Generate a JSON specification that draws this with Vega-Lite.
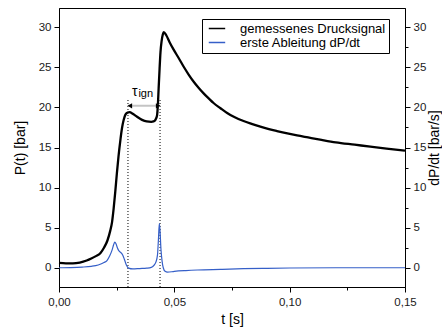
{
  "$schema": "https://vega.github.io/schema/vega-lite/v6.json",
  "width": 346,
  "height": 279,
  "autosize": "none",
  "padding": {"left": 59, "top": 8, "right": 37, "bottom": 45},
  "background": "white",
  "config": {
    "font": "Liberation Sans",
    "view": {"stroke": "black", "strokeWidth": 1},
    "axis": {
      "domainColor": "black",
      "tickColor": "black",
      "labelColor": "#1a1a1a",
      "labelFont": "Liberation Sans",
      "labelFontSize": 11.5,
      "titleFont": "Liberation Sans",
      "titleFontSize": 14,
      "titleFontWeight": "normal",
      "titleColor": "black",
      "grid": false,
      "labelFlush": false,
      "labelOverlap": false
    }
  },
  "datasets": {
    "P": [
      {"t": 0.0, "v": 0.6}, {"t": 0.003, "v": 0.55}, {"t": 0.006, "v": 0.55}, {"t": 0.009, "v": 0.65},
      {"t": 0.012, "v": 0.9}, {"t": 0.014, "v": 1.15}, {"t": 0.016, "v": 1.45}, {"t": 0.018, "v": 1.85},
      {"t": 0.0195, "v": 2.5}, {"t": 0.021, "v": 3.4}, {"t": 0.0222, "v": 4.6}, {"t": 0.023, "v": 5.7},
      {"t": 0.0237, "v": 7.4}, {"t": 0.0244, "v": 9.5}, {"t": 0.0251, "v": 11.8}, {"t": 0.0258, "v": 13.9},
      {"t": 0.0266, "v": 15.9}, {"t": 0.0273, "v": 17.4}, {"t": 0.028, "v": 18.4}, {"t": 0.0288, "v": 19.1},
      {"t": 0.0297, "v": 19.35}, {"t": 0.0306, "v": 19.4}, {"t": 0.0318, "v": 19.25}, {"t": 0.033, "v": 19.0},
      {"t": 0.0345, "v": 18.7}, {"t": 0.036, "v": 18.45}, {"t": 0.038, "v": 18.25}, {"t": 0.04, "v": 18.2},
      {"t": 0.041, "v": 18.25}, {"t": 0.0418, "v": 18.45}, {"t": 0.0425, "v": 19.0}, {"t": 0.0429, "v": 20.5},
      {"t": 0.0432, "v": 22.4}, {"t": 0.0436, "v": 24.8}, {"t": 0.044, "v": 26.9}, {"t": 0.0445, "v": 28.3},
      {"t": 0.045, "v": 29.1}, {"t": 0.0454, "v": 29.4}, {"t": 0.0465, "v": 29.0}, {"t": 0.048, "v": 28.1},
      {"t": 0.0497, "v": 27.2}, {"t": 0.052, "v": 26.1}, {"t": 0.054, "v": 25.1}, {"t": 0.0562, "v": 24.1},
      {"t": 0.0584, "v": 23.2}, {"t": 0.0605, "v": 22.45}, {"t": 0.0627, "v": 21.75}, {"t": 0.065, "v": 21.1},
      {"t": 0.067, "v": 20.55}, {"t": 0.07, "v": 19.9}, {"t": 0.0729, "v": 19.3}, {"t": 0.076, "v": 18.8},
      {"t": 0.08, "v": 18.3}, {"t": 0.0835, "v": 17.95}, {"t": 0.0873, "v": 17.6}, {"t": 0.091, "v": 17.3},
      {"t": 0.0945, "v": 17.05}, {"t": 0.099, "v": 16.75}, {"t": 0.1032, "v": 16.5}, {"t": 0.108, "v": 16.25},
      {"t": 0.1138, "v": 15.95}, {"t": 0.12, "v": 15.65}, {"t": 0.1282, "v": 15.35}, {"t": 0.135, "v": 15.1},
      {"t": 0.142, "v": 14.85}, {"t": 0.15, "v": 14.6}
    ],
    "D": [
      {"t": 0.0, "v": 0.0}, {"t": 0.005, "v": 0.02}, {"t": 0.01, "v": 0.08}, {"t": 0.014, "v": 0.18},
      {"t": 0.017, "v": 0.35}, {"t": 0.0195, "v": 0.65}, {"t": 0.0208, "v": 0.9}, {"t": 0.022, "v": 1.5},
      {"t": 0.023, "v": 2.2}, {"t": 0.0237, "v": 2.9}, {"t": 0.0242, "v": 3.2}, {"t": 0.0247, "v": 3.0},
      {"t": 0.0253, "v": 2.5}, {"t": 0.026, "v": 2.1}, {"t": 0.0268, "v": 1.9}, {"t": 0.0276, "v": 1.6},
      {"t": 0.0284, "v": 1.0}, {"t": 0.0292, "v": 0.35}, {"t": 0.0302, "v": -0.05}, {"t": 0.032, "v": -0.15},
      {"t": 0.035, "v": -0.1}, {"t": 0.038, "v": -0.05}, {"t": 0.04, "v": 0.05}, {"t": 0.041, "v": 0.25},
      {"t": 0.042, "v": 0.7}, {"t": 0.0427, "v": 1.6}, {"t": 0.0431, "v": 3.5}, {"t": 0.0435, "v": 5.5},
      {"t": 0.0438, "v": 4.6}, {"t": 0.0442, "v": 2.3}, {"t": 0.0447, "v": 0.8}, {"t": 0.0452, "v": 0.0},
      {"t": 0.046, "v": -0.45}, {"t": 0.047, "v": -0.55}, {"t": 0.05, "v": -0.45}, {"t": 0.055, "v": -0.35},
      {"t": 0.06, "v": -0.28}, {"t": 0.07, "v": -0.2}, {"t": 0.08, "v": -0.12}, {"t": 0.09, "v": -0.07},
      {"t": 0.1, "v": -0.03}, {"t": 0.12, "v": 0.0}, {"t": 0.15, "v": 0.0}
    ],
    "markers": [
      {"t": 0.0299, "y1": -2.4, "y2": 21.0},
      {"t": 0.0438, "y1": -2.4, "y2": 21.0}
    ],
    "arrow": [
      {"t1": 0.0299, "t2": 0.0438, "y": 20.2}
    ],
    "heads": [
      {"t": 0.0307, "y": 20.2, "dir": "left"},
      {"t": 0.043, "y": 20.2, "dir": "right"}
    ],
    "tau": [{"t": 0.0329, "y": 21.4, "txt": "τ"}],
    "sub": [{"t": 0.0376, "y": 21.25, "txt": "ign"}]
  },
  "layer": [
    {
      "layer": [
        {
          "data": {"name": "P"},
          "transform": [{"calculate": "'gemessenes Drucksignal'", "as": "s"}],
          "mark": {"type": "line", "strokeWidth": 2.3, "interpolate": "monotone"},
          "encoding": {
            "x": {
              "field": "t", "type": "quantitative",
              "scale": {"domain": [0, 0.15], "nice": false},
              "axis": {
                "title": "t [s]",
                "values": [0, 0.025, 0.05, 0.075, 0.1, 0.125, 0.15],
                "labelExpr": "round(datum.value*1000)%50===0 ? replace(format(datum.value,'.2f'),'.',',') : ''",
                "tickSize": {"condition": {"test": "round(datum.value*1000)%50===0", "value": 5}, "value": 3},
                "labelPadding": 4,
                "titlePadding": 5
              }
            },
            "y": {
              "field": "v", "type": "quantitative",
              "scale": {"domain": [-2.4, 32.4], "nice": false, "zero": false},
              "axis": {
                "orient": "left",
                "title": "P(t) [bar]",
                "values": [0, 2.5, 5, 7.5, 10, 12.5, 15, 17.5, 20, 22.5, 25, 27.5, 30],
                "labelExpr": "datum.value % 5 === 0 ? format(datum.value,'d') : ''",
                "tickSize": {"condition": {"test": "datum.value % 5 === 0", "value": 5}, "value": 3},
                "labelPadding": 3,
                "titlePadding": 11
              }
            },
            "color": {
              "field": "s", "type": "nominal",
              "scale": {"domain": ["gemessenes Drucksignal", "erste Ableitung dP/dt"], "range": ["#000000", "#355fc8"]},
              "legend": {
                "title": null,
                "orient": "none",
                "legendX": 143,
                "legendY": 11,
                "symbolType": "M-1,0H5",
                "symbolSize": 30,
                "symbolStrokeWidth": 1.5,
                "labelFont": "Liberation Sans",
                "labelFontSize": 13,
                "labelColor": "black",
                "labelOffset": 22,
                "rowPadding": 0,
                "padding": 3,
                "strokeColor": "black",
                "fillColor": "white"
              }
            }
          }
        },
        {
          "data": {"name": "markers"},
          "mark": {"type": "rule", "color": "black", "strokeWidth": 1, "strokeDash": [1, 2]},
          "encoding": {
            "x": {"field": "t", "type": "quantitative"},
            "y": {"field": "y1", "type": "quantitative"},
            "y2": {"field": "y2"}
          }
        },
        {
          "data": {"name": "arrow"},
          "mark": {"type": "rule", "color": "#c4c4c4", "strokeWidth": 2},
          "encoding": {
            "x": {"field": "t1", "type": "quantitative"},
            "x2": {"field": "t2"},
            "y": {"field": "y", "type": "quantitative"}
          }
        },
        {
          "data": {"name": "heads"},
          "mark": {"type": "point", "filled": true, "color": "black", "size": 28, "opacity": 1},
          "encoding": {
            "x": {"field": "t", "type": "quantitative"},
            "y": {"field": "y", "type": "quantitative"},
            "shape": {"field": "dir", "type": "nominal", "scale": {"domain": ["left", "right"], "range": ["triangle-left", "triangle-right"]}, "legend": null}
          }
        },
        {
          "data": {"name": "tau"},
          "mark": {"type": "text", "font": "Liberation Sans", "fontSize": 14, "align": "center", "baseline": "alphabetic", "color": "black"},
          "encoding": {
            "x": {"field": "t", "type": "quantitative"},
            "y": {"field": "y", "type": "quantitative"},
            "text": {"field": "txt"}
          }
        },
        {
          "data": {"name": "sub"},
          "mark": {"type": "text", "font": "Liberation Sans", "fontSize": 11, "align": "center", "baseline": "alphabetic", "color": "black"},
          "encoding": {
            "x": {"field": "t", "type": "quantitative"},
            "y": {"field": "y", "type": "quantitative"},
            "text": {"field": "txt"}
          }
        }
      ]
    },
    {
      "data": {"name": "D"},
      "transform": [{"calculate": "'erste Ableitung dP/dt'", "as": "s"}],
      "mark": {"type": "line", "strokeWidth": 1.2, "interpolate": "monotone"},
      "encoding": {
        "x": {"field": "t", "type": "quantitative"},
        "y": {
          "field": "v", "type": "quantitative",
          "scale": {"domain": [-2.4, 32.4], "nice": false, "zero": false},
          "axis": {
            "orient": "right",
            "title": "dP/dt [bar/s]",
            "titleAngle": 270,
            "titleBaseline": "top",
            "values": [0, 2.5, 5, 7.5, 10, 12.5, 15, 17.5, 20, 22.5, 25, 27.5, 30],
            "labelExpr": "datum.value % 5 === 0 ? format(datum.value,'d') : ''",
            "tickSize": {"condition": {"test": "datum.value % 5 === 0", "value": 5}, "value": 3},
            "labelPadding": 3,
            "titlePadding": 2
          }
        },
        "color": {"field": "s", "type": "nominal"}
      }
    }
  ],
  "resolve": {"scale": {"y": "independent"}}
}
